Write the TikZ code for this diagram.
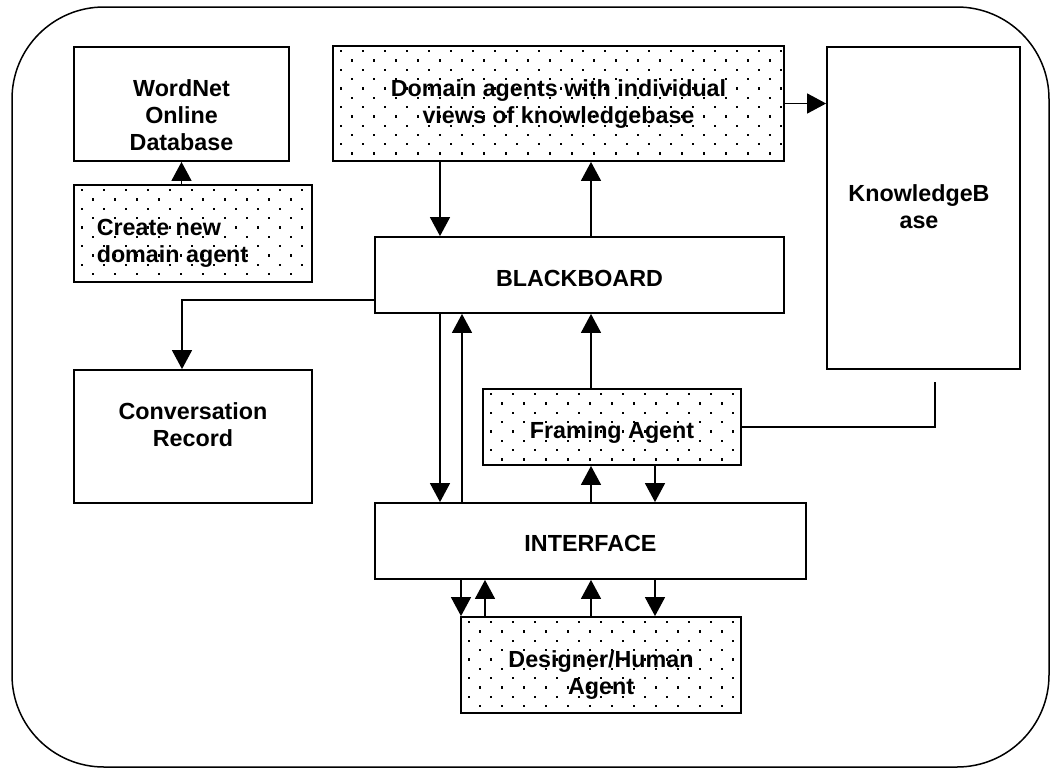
\documentclass[tikz,border=0pt]{standalone}
\usepackage{fontspec}
\setmainfont{Liberation Sans}
\usetikzlibrary{arrows.meta,backgrounds}
\newcommand{\lbl}[4]{\hspace*{#1}\raisebox{#2}[\height][\depth]{\begin{tabular}{@{}#3@{}}#4\end{tabular}}}
\newcommand{\dotsin}[1]{%
  \begin{pgfonlayer}{background}
  \begin{scope}
    \clip (#1.north west) rectangle (#1.south east);
    \begin{scope}[shift={(#1.north west)}]
      \foreach \ri in {0,...,13}{\foreach \ci in {0,...,21}{
        \fill ({8+\ci*22+mod(\ri,2)*11},{5+\ri*9.3}) rectangle ++(2.3,2.3);}}
    \end{scope}
  \end{scope}
  \end{pgfonlayer}}
\begin{document}
\begin{tikzpicture}[x=1pt,y=-1pt,
  box/.style={draw, line width=1.8pt, inner sep=0pt, anchor=center,
    font=\fontsize{23.3}{27}\selectfont\bfseries},
  dotbox/.style={box},
  conn/.style={line width=1.5pt},
  arr/.style={conn, -{Triangle[width=20pt,length=19pt]}}]
\useasboundingbox (0,0) rectangle (1050,769);
\draw[line width=1.5pt, rounded corners=92pt] (12,7) rectangle (1049,767);

% boxes
\node[box, minimum width=215pt, minimum height=114pt] (wn) at (181.5,104)
  {\lbl{0pt}{-14pt}{c}{WordNet\\Online\\Database}};
\node[dotbox, minimum width=238pt, minimum height=97pt] (cr) at (193,233.5)
  {\lbl{-41pt}{-10pt}{l}{Create new\\domain agent}};
\node[dotbox, minimum width=451pt, minimum height=115pt] (dom) at (558.5,103.5)
  {\lbl{0pt}{-1pt}{c}{Domain agents with individual\\views of knowledgebase}};
\node[box, minimum width=193pt, minimum height=322pt] (kb) at (923.5,208)
  {\lbl{-9pt}{-1.5pt}{c}{KnowledgeB\\ase}};
\node[box, minimum width=409pt, minimum height=76pt] (bb) at (579.5,275)
  {\lbl{0pt}{-6pt}{c}{BLACKBOARD}};
\node[box, minimum width=238pt, minimum height=133pt] (conv) at (193,436.5)
  {\lbl{0pt}{9pt}{c}{Conversation\\Record}};
\node[dotbox, minimum width=258pt, minimum height=76pt] (fr) at (612,427)
  {\lbl{0pt}{-6pt}{c}{Framing Agent}};
\node[box, minimum width=431pt, minimum height=76pt] (inf) at (590.5,541)
  {\lbl{0pt}{-5pt}{c}{INTERFACE}};
\node[dotbox, minimum width=280pt, minimum height=96pt] (des) at (601,665)
  {\lbl{0pt}{-11pt}{c}{Designer/Human\\Agent}};

% dotted fills
\dotsin{cr}
\dotsin{dom}
\dotsin{fr}
\dotsin{des}

% column coordinates
\coordinate (xa) at (440,0);
\coordinate (xb) at (462,0);
\coordinate (xc) at (591,0);
\coordinate (xd) at (655,0);
\coordinate (xe) at (461,0);
\coordinate (xf) at (485,0);
\coordinate (bend1) at (182,300);
\coordinate (kbend) at (935,427);
\coordinate (kbtop) at (935,382);

% connectors
\draw[arr] (cr.north -| wn.south) -- (wn.south);
\draw[arr] (dom.east) -- (kb.west |- dom.east);
\draw[arr] (dom.south -| xa) -- (bb.north -| xa);
\draw[arr] (bb.north -| xc) -- (dom.south -| xc);
\draw[arr] (bend1 -| bb.west) -- (bend1) -- (bend1 |- conv.north);
\draw[arr] (bb.south -| xa) -- (inf.north -| xa);
\draw[arr] (inf.north -| xb) -- (bb.south -| xb);
\draw[arr] (fr.north -| xc) -- (bb.south -| xc);
\draw[arr] (inf.north -| xc) -- (fr.south -| xc);
\draw[arr] (fr.south -| xd) -- (inf.north -| xd);
\draw[conn] (fr.east) -- (kbend) -- (kbtop);
\draw[arr] (inf.south -| xe) -- (des.north -| xe);
\draw[arr] (des.north -| xf) -- (inf.south -| xf);
\draw[arr] (des.north -| xc) -- (inf.south -| xc);
\draw[arr] (inf.south -| xd) -- (des.north -| xd);
\end{tikzpicture}
\end{document}
